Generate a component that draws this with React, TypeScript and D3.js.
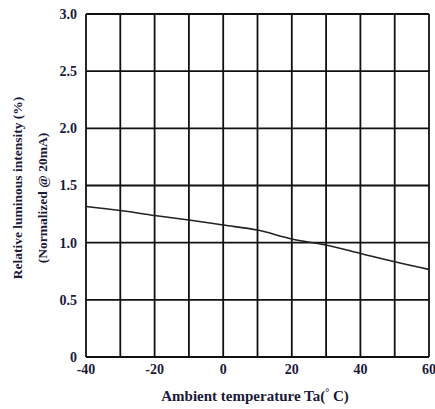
import React from "react";
import * as d3 from "d3";

const temps = [-40, -30, -20, -10, 0, 10, 20, 30, 40, 50, 60];
const intensity = [1.316, 1.281, 1.237, 1.198, 1.154, 1.11, 1.032, 0.979, 0.906, 0.833, 0.766];
const xTicks = [-40, -20, 0, 20, 40, 60];
const xGrid = [-40, -30, -20, -10, 0, 10, 20, 30, 40, 50, 60];
const yTicks = [0, 0.5, 1.0, 1.5, 2.0, 2.5, 3.0];
const yTickLabels = ["0", "0.5", "1.0", "1.5", "2.0", "2.5", "3.0"];

const W = 435;
const H = 409;
const M = { left: 86, right: 6, top: 14, bottom: 52 };

export default function App() {
  const x = d3.scaleLinear().domain([-40, 60]).range([M.left, W - M.right]);
  const y = d3.scaleLinear().domain([0, 3]).range([H - M.bottom, M.top]);
  const line = d3
    .line<number>()
    .x((_, i) => x(temps[i]))
    .y((d) => y(d))
    .curve(d3.curveMonotoneX);
  const font = "'Liberation Serif', 'DejaVu Serif', serif";
  const tc = "#1a1a3a";
  return (
    <svg
      width={W}
      height={H}
      style={{ position: "absolute", left: 0, top: 0, background: "#fff" }}
      fontFamily={font}
    >
      {xGrid.map((t) => (
        <line key={"vx" + t} x1={x(t)} x2={x(t)} y1={y(0)} y2={y(3)} stroke="#111" strokeWidth={1.8} />
      ))}
      {yTicks.map((t) => (
        <line key={"hy" + t} x1={x(-40)} x2={x(60)} y1={y(t)} y2={y(t)} stroke="#111" strokeWidth={1.8} />
      ))}
      <path d={line(intensity) || ""} fill="none" stroke="#222" strokeWidth={1.6} />
      {yTicks.map((t, i) => (
        <text key={"yl" + t} x={77} y={y(t)} dy="0.35em" textAnchor="end" fontSize={14} fontWeight="bold" fill={tc}>
          {yTickLabels[i]}
        </text>
      ))}
      {xTicks.map((t) => (
        <text key={"xl" + t} x={x(t)} y={369} dy="0.35em" textAnchor="middle" fontSize={14} fontWeight="bold" fill={tc}>
          {t}
        </text>
      ))}
      <text x={255} y={401} textAnchor="middle" fontSize={15} fontWeight="bold" fill={tc}>
        Ambient temperature Ta(
        <tspan dy={-5} fontSize={10}>°</tspan>
        <tspan dy={5}> C)</tspan>
      </text>
      <text transform="translate(22,188) rotate(-90)" textAnchor="middle" fontSize={13.5} fontWeight="bold" fill={tc}>
        Relative luminous intensity (%)
      </text>
      <text transform="translate(47,198) rotate(-90)" textAnchor="middle" fontSize={13.5} fontWeight="bold" fill={tc}>
        (Normalized @ 20mA)
      </text>
    </svg>
  );
}
